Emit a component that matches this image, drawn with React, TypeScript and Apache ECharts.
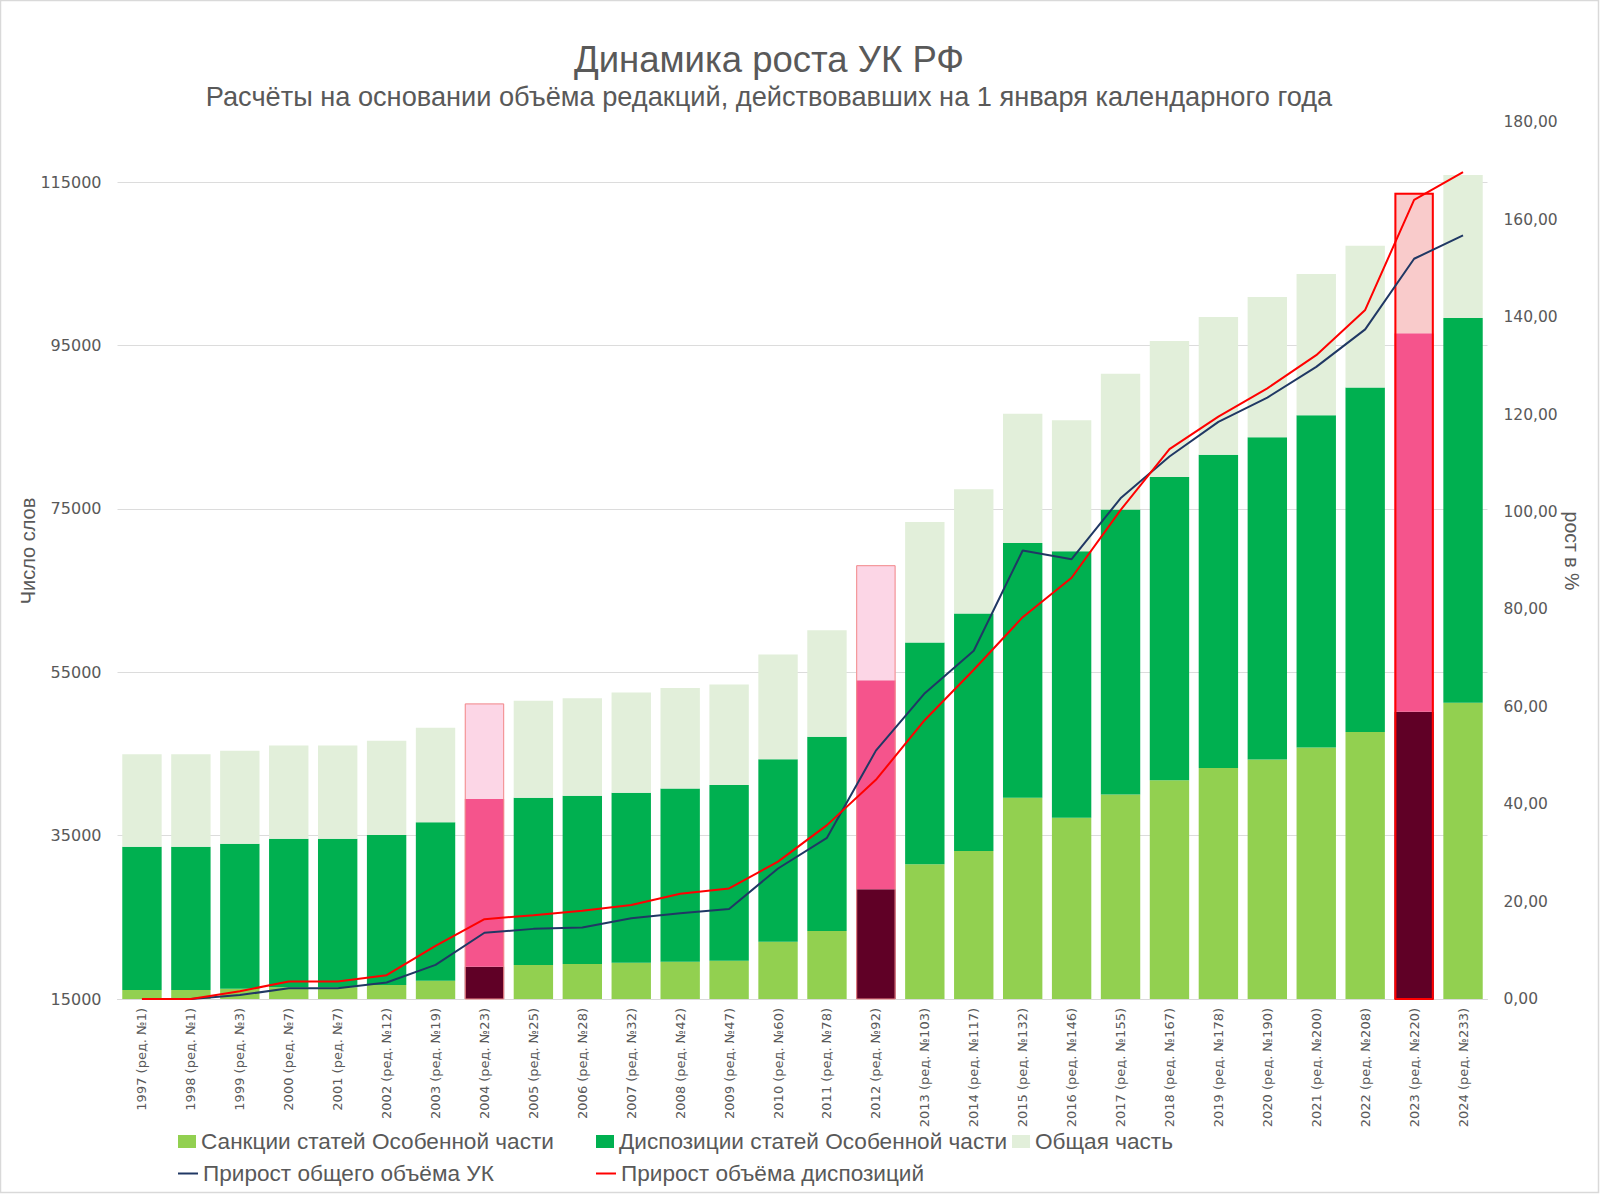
import React, { useEffect, useRef } from "react";
import * as echarts from "echarts";

const categories = [
  "1997 (ред. №1)", "1998 (ред. №1)", "1999 (ред. №3)", "2000 (ред. №7)", "2001 (ред. №7)",
  "2002 (ред. №12)", "2003 (ред. №19)", "2004 (ред. №23)", "2005 (ред. №25)", "2006 (ред. №28)",
  "2007 (ред. №32)", "2008 (ред. №42)", "2009 (ред. №47)", "2010 (ред. №60)", "2011 (ред. №78)",
  "2012 (ред. №92)", "2013 (ред. №103)", "2014 (ред. №117)", "2015 (ред. №132)", "2016 (ред. №146)",
  "2017 (ред. №155)", "2018 (ред. №167)", "2019 (ред. №178)", "2020 (ред. №190)", "2021 (ред. №200)",
  "2022 (ред. №208)", "2023 (ред. №220)", "2024 (ред. №233)",
];

// words in sanctions of the Special part
const sanctions = [
  16100, 16100, 16260, 16430, 16430, 16710, 17240, 18950, 19160, 19280,
  19440, 19560, 19690, 22010, 23320, 28440, 31480, 33110, 39630, 37180,
  40040, 41790, 43270, 44320, 45790, 47670, 50150, 51250,
];

// words in dispositions of the Special part
const dispositions = [
  17530, 17530, 17740, 18180, 18180, 18350, 19380, 20520, 20470, 20590,
  20810, 21220, 21490, 22350, 23770, 25590, 27160, 29080, 31190, 32630,
  34870, 37110, 38340, 39440, 40660, 42170, 46330, 47100,
];

// words in the General part
const generalPart = [
  11340, 11340, 11380, 11430, 11430, 11540, 11570, 11710, 11890, 11950,
  12270, 12300, 12320, 12810, 13050, 14070, 14750, 15200, 15830, 16030,
  16610, 16630, 16870, 17160, 17290, 17360, 17210, 17500,
];

// growth of the whole code, %
const totalGrowth = [
  0, 0, 0.8, 2.2, 2.2, 3.4, 7.0, 13.6, 14.4, 14.7,
  16.6, 17.6, 18.5, 26.8, 33.1, 51.0, 62.8, 71.5, 92.1, 90.3,
  102.8, 111.4, 118.5, 123.5, 129.8, 137.5, 152.0, 156.8,
];

// growth of dispositions, %
const dispGrowth = [
  0, 0, 1.6, 3.6, 3.6, 4.9, 10.9, 16.4, 17.2, 18.1,
  19.3, 21.6, 22.7, 28.2, 35.7, 45.0, 57.3, 67.6, 78.4, 86.5,
  100.4, 112.9, 119.6, 125.4, 132.2, 141.5, 164.1, 169.8,
];

const highlighted = [7, 15, 26];
const strongIndex = 26;

const NAMES = {
  sanc: "Санкции статей Особенной части",
  disp: "Диспозиции статей Особенной части",
  gen: "Общая часть",
  total: "Прирост общего объёма УК",
  dgrowth: "Прирост объёма диспозиций",
};

const TXT = "#595959";
const SANS = "'Liberation Sans', Arial, sans-serif";
const TICKFONT = "'DejaVu Sans', Verdana, sans-serif";

export default function App() {
  const ref = useRef<HTMLDivElement>(null);

  useEffect(() => {
    if (!ref.current) return;
    const chart = echarts.init(ref.current, null, { renderer: "svg" });

    const special = (arr: number[], color: (i: number) => string) =>
      arr.map((v, i) =>
        highlighted.includes(i) ? { value: v, itemStyle: { color: color(i) } } : v
      );

    const totals = categories.map((_, i) => sanctions[i] + dispositions[i] + generalPart[i]);
    const outline = totals.map((v, i) =>
      highlighted.includes(i)
        ? {
            value: v,
            itemStyle: {
              color: "rgba(0,0,0,0)",
              borderColor: i === strongIndex ? "#FF0000" : "#F28B8B",
              borderWidth: i === strongIndex ? 2 : 1,
            },
          }
        : "-"
    );

    const legendText = { fontSize: 22.6, color: TXT, fontFamily: SANS };

    const option: any = {
      animation: false,
      backgroundColor: "#ffffff",
      grid: { left: 117.5, right: 112.5, top: 122.4, bottom: 196, containLabel: false },
      graphic: [
        {
          type: "rect",
          silent: true,
          shape: { x: 0.5, y: 0.5, width: 1598, height: 1192 },
          style: { fill: "none", stroke: "#d9d9d9", lineWidth: 1.5 },
        },
        {
          type: "text",
          x: 769,
          y: 59,
          style: {
            text: "Динамика роста УК РФ",
            fontSize: 36.5,
            fontFamily: SANS,
            fill: TXT,
            textAlign: "center",
            textVerticalAlign: "middle",
          },
        },
        {
          type: "text",
          x: 769,
          y: 96,
          style: {
            text: "Расчёты на основании объёма редакций, действовавших на 1 января календарного года",
            fontSize: 27.2,
            fontFamily: SANS,
            fill: TXT,
            textAlign: "center",
            textVerticalAlign: "middle",
          },
        },
        {
          type: "text",
          x: 28,
          y: 551,
          rotation: Math.PI / 2,
          style: {
            text: "Число слов",
            fontSize: 20,
            fontFamily: SANS,
            fill: TXT,
            textAlign: "center",
            textVerticalAlign: "middle",
          },
        },
        {
          type: "text",
          x: 1572,
          y: 551,
          rotation: -Math.PI / 2,
          style: {
            text: "рост в %",
            fontSize: 19.5,
            fontFamily: SANS,
            fill: TXT,
            textAlign: "center",
            textVerticalAlign: "middle",
          },
        },
      ],
      legend: [
        { data: [{ name: NAMES.sanc, icon: "rect" }], left: 178, top: 1130, itemWidth: 18, itemHeight: 13, padding: 0, textStyle: legendText, selectedMode: false },
        { data: [{ name: NAMES.disp, icon: "rect" }], left: 596, top: 1130, itemWidth: 18, itemHeight: 13, padding: 0, textStyle: legendText, selectedMode: false },
        { data: [{ name: NAMES.gen, icon: "rect" }], left: 1012, top: 1130, itemWidth: 18, itemHeight: 13, padding: 0, textStyle: legendText, selectedMode: false },
        { data: [{ name: NAMES.total, icon: "rect" }], left: 178, top: 1162, itemWidth: 20, itemHeight: 2, padding: 0, textStyle: legendText, selectedMode: false },
        { data: [{ name: NAMES.dgrowth, icon: "rect" }], left: 596, top: 1162, itemWidth: 20, itemHeight: 2, padding: 0, textStyle: legendText, selectedMode: false },
      ],
      xAxis: {
        type: "category",
        data: categories,
        axisTick: { show: false },
        axisLine: { show: true, lineStyle: { color: "#d9d9d9" } },
        axisLabel: {
          rotate: 90,
          interval: 0,
          fontSize: 13,
          color: TXT,
          fontFamily: TICKFONT,
          margin: 9,
        },
      },
      yAxis: [
        {
          type: "value",
          min: 15000,
          max: 122300,
          interval: 20000,
          axisLine: { show: false },
          axisTick: { show: false },
          axisLabel: {
            fontSize: 16,
            color: TXT,
            fontFamily: TICKFONT,
            margin: 16,
            showMaxLabel: false,
            formatter: (v: number) => String(Math.round(v)),
          },
          splitLine: {
            show: true,
            showMaxLine: false,
            lineStyle: {
              color: ["#dcdcdc", "#dcdcdc", "#dcdcdc", "#dcdcdc", "#dcdcdc", "#dcdcdc", "rgba(0,0,0,0)"],
              width: 1,
            },
          },
        },
        {
          type: "value",
          min: 0,
          max: 180,
          interval: 20,
          position: "right",
          axisLine: { show: false },
          axisTick: { show: false },
          splitLine: { show: false },
          axisLabel: {
            fontSize: 15.5,
            color: TXT,
            fontFamily: TICKFONT,
            margin: 16,
            formatter: (v: number) => v.toFixed(2).replace(".", ","),
          },
        },
      ],
      series: [
        {
          name: NAMES.sanc,
          type: "bar",
          stack: "words",
          barWidth: "80.5%",
          clip: true,
          color: "#92D050",
          itemStyle: { color: "#92D050" },
          data: special(sanctions, () => "#600026"),
          z: 2,
        },
        {
          name: NAMES.disp,
          type: "bar",
          stack: "words",
          barWidth: "80.5%",
          clip: true,
          color: "#00B050",
          itemStyle: { color: "#00B050" },
          data: special(dispositions, () => "#F5548C"),
          z: 2,
        },
        {
          name: NAMES.gen,
          type: "bar",
          stack: "words",
          barWidth: "80.5%",
          clip: true,
          color: "#E2EFDA",
          itemStyle: { color: "#E2EFDA" },
          data: special(generalPart, (i) => (i === strongIndex ? "#F9CBCB" : "#FCD6E6")),
          z: 2,
        },
        {
          name: "outline",
          type: "bar",
          stack: "outline",
          barWidth: "80.5%",
          barGap: "-100%",
          clip: true,
          silent: true,
          data: outline,
          z: 3,
        },
        {
          name: NAMES.total,
          type: "line",
          yAxisIndex: 1,
          color: "#203864",
          showSymbol: false,
          symbol: "none",
          lineStyle: { color: "#203864", width: 2 },
          data: totalGrowth,
          z: 5,
        },
        {
          name: NAMES.dgrowth,
          type: "line",
          yAxisIndex: 1,
          color: "#FF0000",
          showSymbol: false,
          symbol: "none",
          lineStyle: { color: "#FF0000", width: 2 },
          data: dispGrowth,
          z: 6,
        },
      ],
    };

    chart.setOption(option);
    return () => chart.dispose();
  }, []);

  return (
    <div
      ref={ref}
      style={{ position: "fixed", left: 0, top: 0, width: 1600, height: 1195, background: "#fff" }}
    />
  );
}
